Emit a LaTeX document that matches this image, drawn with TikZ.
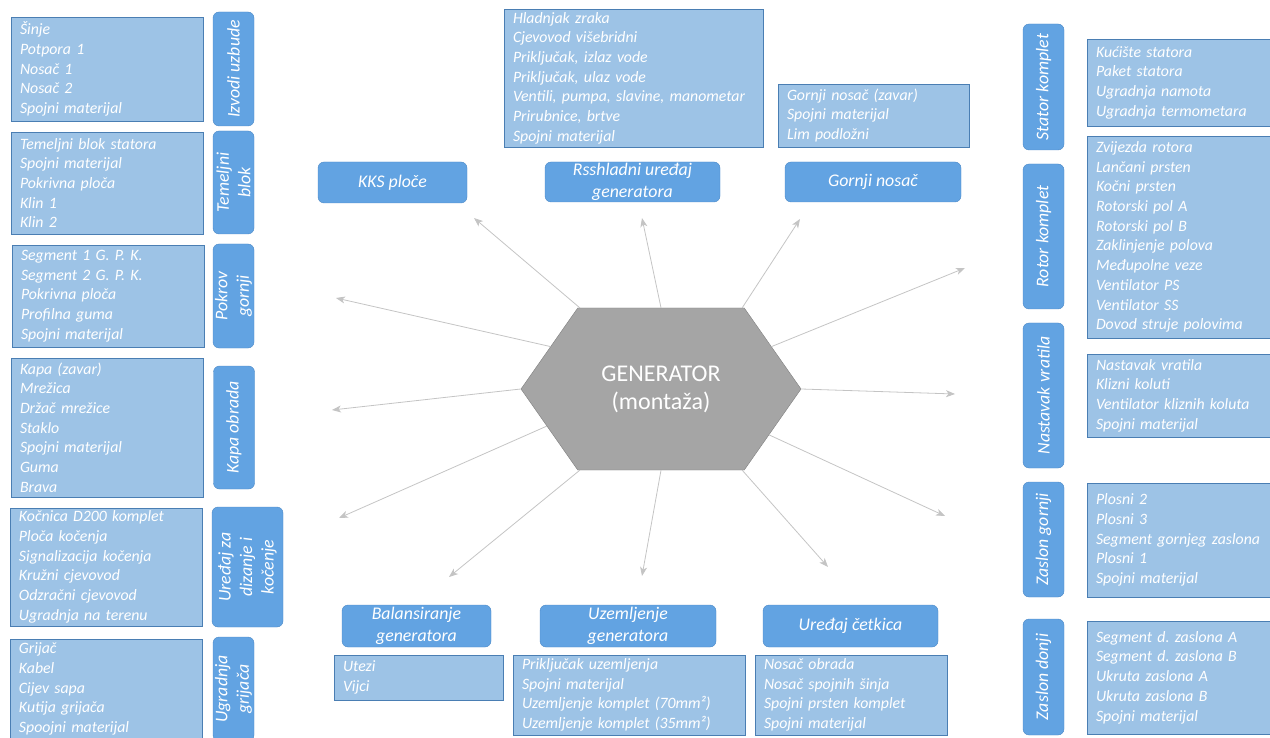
\documentclass[tikz,border=0pt]{standalone}
\usepackage{fontspec}
\setmainfont{Carlito}[ItalicFont=Carlito Italic]
\usepackage{tikz}
\usetikzlibrary{positioning,shapes.symbols,arrows.meta}
\definecolor{listblue}{HTML}{9DC3E6}
\definecolor{listline}{HTML}{4A7EB3}
\definecolor{labblue}{HTML}{62A3E2}
\definecolor{labline}{HTML}{4C89C6}
\definecolor{hexgray}{HTML}{A5A5A5}
\definecolor{spokegray}{HTML}{C4C4C4}
\frenchspacing

\begin{document}
\begin{tikzpicture}[x=1pt,y=-1pt,
    listbox/.style={draw=listline,fill=listblue,text=white,align=left,inner xsep=9pt,inner ysep=0pt,font=\itshape\fontsize{15.8}{19.7}\selectfont},
    labelbox/.style={draw=labline,fill=labblue,text=white,align=center,inner sep=0pt,rounded corners=6pt,font=\itshape\fontsize{17.8}{21.5}\selectfont},
    vlabel/.style={labelbox,rotate=90},
    spoke/.style={draw=spokegray,line width=0.8pt,-{Stealth[length=9pt,width=7pt,inset=2.5pt]}}]
  \useasboundingbox (0,0) rectangle (1270,738);
  \clip (0,0) rectangle (1270,738);

  % centre
  \node[signal,signal to=west and east,signal pointer angle=110,minimum width=280pt,minimum height=162pt,
        fill=hexgray,draw=gray,inner sep=0pt,text=white,align=center,font=\fontsize{24}{28}\selectfont](gen) at (661,389){GENERATOR\\(montaža)};

  % left column
  \node[listbox,text width=174pt,minimum height=104pt](lizv) at (107,69){Šinje\\Potpora 1\\Nosač 1\\Nosač 2\\Spojni materijal};
  \node[listbox,text width=174pt,minimum height=102pt](ltem) at (107,183){Temeljni blok statora\\Spojni materijal\\Pokrivna ploča\\Klin 1\\Klin 2};
  \node[listbox,text width=174pt,minimum height=102pt](lpok) at (108,296){Segment 1 G. P. K.\\Segment 2 G. P. K.\\Pokrivna ploča\\Profilna guma\\Spojni materijal};
  \node[listbox,text width=174pt,minimum height=139pt](lkap) at (107,427.5){Kapa (zavar)\\Mrežica\\Držač mrežice\\Staklo\\Spojni materijal\\Guma\\Brava};
  \node[listbox,text width=174pt,minimum height=118pt](lured) at (106,567){Kočnica D200 komplet\\Ploča kočenja\\Signalizacija kočenja\\Kružni cjevovod\\Odzračni cjevovod\\Ugradnja na terenu};
  \node[listbox,text width=174pt,minimum height=100pt](lgri) at (106,689){Grijač\\Kabel\\Cijev sapa\\Kutija grijača\\Spoojni materijal};

  \node[vlabel,minimum width=114pt,minimum height=41pt](izvodi) at (233.5,69){Izvodi uzbude};
  \node[vlabel,minimum width=103pt,minimum height=41pt](temelj) at (233.5,182.5){Temeljni\\blok};
  \node[vlabel,minimum width=104pt,minimum height=41pt](pokrov) at (233.5,296){Pokrov\\gornji};
  \node[vlabel,minimum width=123pt,minimum height=41pt](kapa) at (234,427.5){Kapa obrada};
  \node[vlabel,minimum width=120pt,minimum height=71pt](dizanje) at (247.5,567){Uređaj za\\dizanje i\\kočenje};
  \node[vlabel,minimum width=104pt,minimum height=41pt](grijac) at (233.5,689){Ugradnja\\grijača};

  % top row
  \node[listbox,text width=241pt,minimum height=138pt](lhlad) at (633.5,78){Hladnjak zraka\\Cjevovod višebridni\\Priključak, izlaz vode\\Priključak, ulaz vode\\Ventili, pumpa, slavine, manometar\\Prirubnice, brtve\\Spojni materijal};
  \node[listbox,text width=173pt,minimum height=63pt](lnos) at (873.5,115.5){Gornji nosač (zavar)\\Spojni materijal\\Lim podložni};
  \node[labelbox,minimum width=149pt,minimum height=41pt](kks) at (392.5,182.5){KKS ploče};
  \node[labelbox,minimum width=175pt,minimum height=40pt](hlad) at (632.5,182){Rsshladni uređaj\\generatora};
  \node[labelbox,minimum width=176pt,minimum height=40pt](nosac) at (873,182){Gornji nosač};

  % bottom row
  \node[labelbox,minimum width=149pt,minimum height=42pt](balans) at (416.5,626){Balansiranje\\generatora};
  \node[labelbox,minimum width=176pt,minimum height=42pt](uzem) at (628,626){Uzemljenje\\generatora};
  \node[labelbox,minimum width=175pt,minimum height=42pt](cetk) at (850.5,626){Uređaj četkica};
  \node[listbox,text width=151pt,minimum height=45pt](lbal) at (418.5,677.5){Utezi\\Vijci};
  \node[listbox,text width=214pt,minimum height=80pt](luzem) at (629,695){Priključak uzemljenja\\Spojni materijal\\Uzemljenje komplet (70mm²)\\Uzemljenje komplet (35mm²)};
  \node[listbox,text width=174pt,minimum height=80pt](lcetk) at (851,695){Nosač obrada\\Nosač spojnih šinja\\Spojni prsten komplet\\Spojni materijal};

  % right column
  \node[vlabel,minimum width=126pt,minimum height=41pt](stator) at (1043.5,87){Stator komplet};
  \node[vlabel,minimum width=145pt,minimum height=41pt](rotor) at (1043.5,236.5){Rotor komplet};
  \node[vlabel,minimum width=145pt,minimum height=41pt](vratilo) at (1043.5,395.5){Nastavak vratila};
  \node[vlabel,minimum width=115pt,minimum height=41pt](zgornji) at (1043.5,539.5){Zaslon gornji};
  \node[vlabel,minimum width=116pt,minimum height=41pt](zdonji) at (1043.5,677){Zaslon donji};

  \node[listbox,text width=200pt,minimum height=87pt](lstat) at (1196,82.5){Kućište statora\\Paket statora\\Ugradnja namota\\Ugradnja termometara};
  \node[listbox,text width=200pt,minimum height=202pt](lrot) at (1196,237){Zvijezda rotora\\Lančani prsten\\Kočni prsten\\Rotorski pol A\\Rotorski pol B\\Zaklinjenje polova\\Međupolne veze\\Ventilator PS\\Ventilator SS\\Dovod struje polovima};
  \node[listbox,text width=200pt,minimum height=83pt](lvrat) at (1196,395.5){Nastavak vratila\\Klizni koluti\\Ventilator kliznih koluta\\Spojni materijal};
  \node[listbox,text width=200pt,minimum height=114pt](lzgor) at (1196,540){Plosni 2\\Plosni 3\\Segment gornjeg zaslona\\Plosni 1\\Spojni materijal};
  \node[listbox,text width=200pt,minimum height=113pt](lzdon) at (1196,677.5){Segment d. zaslona A\\Segment d. zaslona B\\Ukruta zaslona A\\Ukruta zaslona B\\Spojni materijal};

  % spokes
  \coordinate (t1) at (474,218);
  \coordinate (t2) at (642,218);
  \coordinate (t3) at (800,219);
  \coordinate (t4) at (965,268);
  \coordinate (t5) at (955,394);
  \coordinate (t6) at (945,516);
  \coordinate (t7) at (828,567);
  \coordinate (t8) at (642,576);
  \coordinate (t9) at (449,577);
  \coordinate (t10) at (339,518);
  \coordinate (t11) at (332,410);
  \coordinate (t12) at (336,298);
  \foreach \a/\t in {135/t1,90/t2,45/t3,21.5/t4,0/t5,-23/t6,-45/t7,-90/t8,-135/t9,198/t10,180/t11,159.5/t12}
    \draw[spoke] (gen.\a) -- (\t);
\end{tikzpicture}
\end{document}
